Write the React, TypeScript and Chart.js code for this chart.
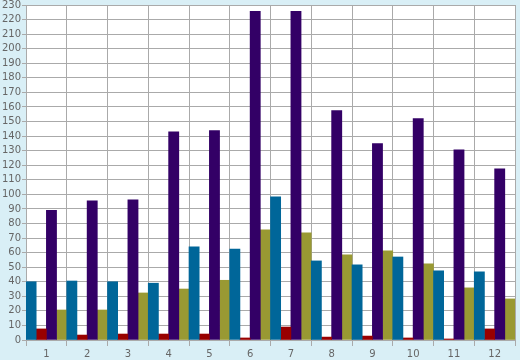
import React, { useEffect, useRef } from "react";
import { Chart, registerables } from "chart.js";

Chart.register(...registerables);

const categories = ["1", "2", "3", "4", "5", "6", "7", "8", "9", "10", "11", "12"];
const blueValues = [40, 40.5, 40, 39, 64, 62.5, 98.3, 54.3, 51.6, 57, 47.5, 46.8];
const redValues = [7.6, 3.4, 4.1, 4.1, 4.1, 1.4, 8.9, 2, 2.7, 1.4, 0.7, 7.6];
const purpleValues = [89, 95.6, 96.3, 143, 143.7, 225.6, 225.6, 157.5, 134.8, 152, 130.6, 117.6];
const oliveValues = [20.6, 20.6, 32.3, 35, 41, 75.6, 73.6, 58.5, 61.2, 52.3, 35.8, 28.2];
const yMin = 0;
const yMax = 230;
const yStep = 10;

const bgPlugin = {
  id: "bgPlugin",
  beforeDraw(chart: any) {
    const { ctx, chartArea } = chart;
    ctx.save();
    ctx.fillStyle = "#d9eff6";
    ctx.fillRect(0, 0, chart.width, chart.height);
    ctx.fillStyle = "#ffffff";
    ctx.fillRect(chartArea.left, chartArea.top, chartArea.right - chartArea.left, chartArea.bottom - chartArea.top);
    ctx.restore();
  },
};

export default function App() {
  const ref = useRef<HTMLCanvasElement | null>(null);
  useEffect(() => {
    if (!ref.current) return;
    const gridColor = "#aaaaaa";
    const chart = new Chart(ref.current, {
      type: "bar",
      data: {
        labels: categories,
        datasets: [
          { label: "A", data: blueValues, backgroundColor: "#006699" },
          { label: "B", data: redValues, backgroundColor: "#990000" },
          { label: "C", data: purpleValues, backgroundColor: "#330066" },
          { label: "D", data: oliveValues, backgroundColor: "#999933" },
        ],
      },
      options: {
        responsive: false,
        animation: false,
        devicePixelRatio: 1,
        layout: { padding: { top: 5, right: 5, left: 0, bottom: 0 } },
        datasets: { bar: { categoryPercentage: 1, barPercentage: 1 } },
        plugins: { legend: { display: false }, tooltip: { enabled: false } },
        scales: {
          x: {
            grid: { color: gridColor, lineWidth: 1, tickLength: 6, offset: true },
            border: { color: gridColor },
            ticks: {
              color: "#666666",
              font: { family: "DejaVu Sans", size: 10 },
              padding: 2,
              maxRotation: 0,
            },
            afterFit(scale: any) {
              scale.height = 20;
              scale.paddingLeft = 0;
              scale.paddingRight = 0;
            },
          },
          y: {
            min: yMin,
            max: yMax,
            grid: { color: gridColor, lineWidth: 1, tickLength: 4 },
            border: { color: gridColor },
            ticks: {
              stepSize: yStep,
              autoSkip: false,
              color: "#666666",
              font: { family: "DejaVu Sans", size: 10 },
              padding: 1,
            },
            afterFit(scale: any) {
              scale.width = 26;
              scale.paddingTop = 0;
              scale.paddingBottom = 0;
            },
          },
        },
      },
      plugins: [bgPlugin],
    } as any);
    return () => chart.destroy();
  }, []);
  return (
    <div style={{ position: "absolute", left: 0, top: 0, width: 520, height: 360 }}>
      <canvas ref={ref} width={520} height={360} style={{ display: "block" }} />
    </div>
  );
}
